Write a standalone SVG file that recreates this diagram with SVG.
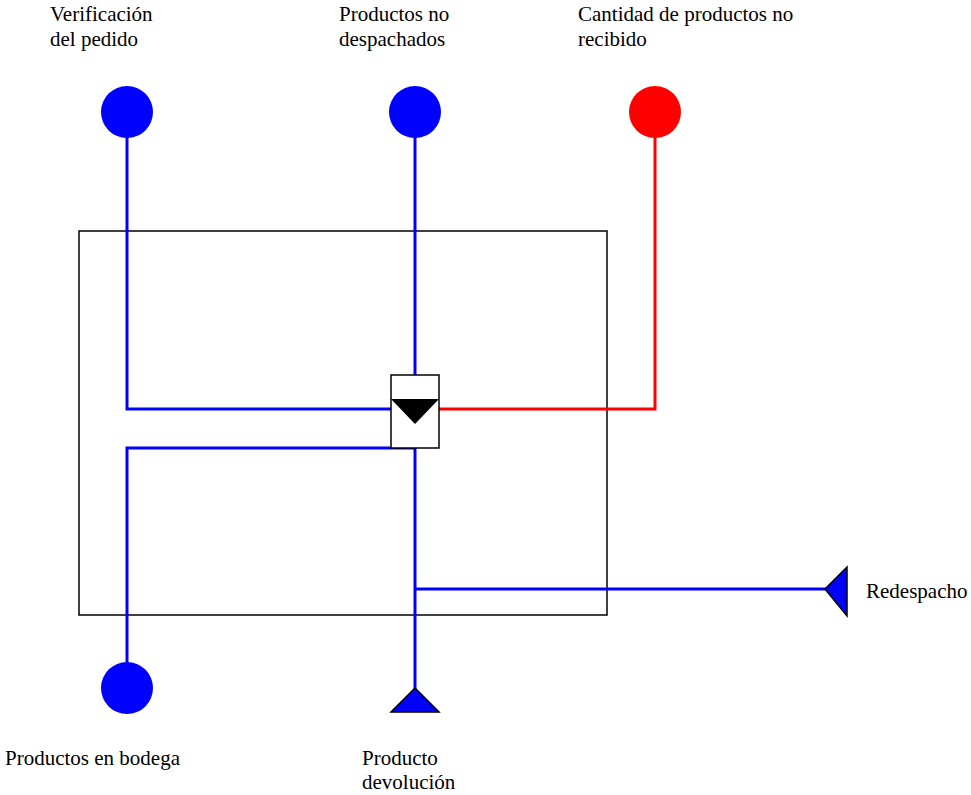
<svg xmlns="http://www.w3.org/2000/svg" width="971" height="795" viewBox="0 0 971 795">
  <style>
    .lbl { font-family: 'Liberation Serif', 'Times New Roman', Times, serif; font-size: 21px; fill: #000; }
    .blue { stroke: #0000ff; stroke-width: 3; fill: none; }
    .red { stroke: #ff0000; stroke-width: 3; fill: none; }
    .dotB { fill: #0000ff; }
    .dotR { fill: #ff0000; }
    .tri { fill: #0000ff; stroke: #000; stroke-width: 1.5; stroke-linejoin: miter; }
  </style>
  <rect width="971" height="795" fill="#fff"/>

  <!-- process boundary -->
  <g id="boundary">
    <rect x="79" y="231" width="528" height="384" fill="none" stroke="#000" stroke-width="1.5"/>
  </g>

  <!-- connectors -->
  <g id="connectors">
    <polyline class="blue" points="127,112 127,409 391,409"/>
    <line class="blue" x1="415" y1="112" x2="415" y2="375"/>
    <polyline class="red" points="439,409 655,409 655,112"/>
    <polyline class="blue" points="415,448 127,448 127,688"/>
    <line class="blue" x1="415" y1="448" x2="415" y2="690"/>
    <line class="blue" x1="415" y1="589" x2="826" y2="589"/>
  </g>

  <g id="verificacion">
    <circle class="dotB" cx="127" cy="112" r="26"/>
    <text class="lbl" x="50" y="21">Verificación</text>
    <text class="lbl" x="50" y="46">del pedido</text>
  </g>

  <g id="no-despachados">
    <circle class="dotB" cx="415" cy="112" r="26"/>
    <text class="lbl" x="339" y="21">Productos no</text>
    <text class="lbl" x="339" y="46">despachados</text>
  </g>

  <g id="cantidad-no-recibido">
    <circle class="dotR" cx="655" cy="112" r="26"/>
    <text class="lbl" x="578" y="21">Cantidad de productos no</text>
    <text class="lbl" x="578" y="46">recibido</text>
  </g>

  <g id="bodega">
    <circle class="dotB" cx="127" cy="688" r="26"/>
    <text class="lbl" x="5" y="765">Productos en bodega</text>
  </g>

  <g id="devolucion">
    <polygon class="tri" points="415,688 439,712 391,712"/>
    <text class="lbl" x="362" y="765">Producto</text>
    <text class="lbl" x="362" y="789">devolución</text>
  </g>

  <g id="redespacho">
    <polygon class="tri" points="825,589 847,567 847,616"/>
    <text class="lbl" x="866" y="598">Redespacho</text>
  </g>

  <g id="decision">
    <rect x="391" y="375" width="48" height="73" fill="#fff" stroke="#000" stroke-width="1.5"/>
    <polygon points="391,399 439,399 415,424" fill="#000"/>
  </g>
</svg>
